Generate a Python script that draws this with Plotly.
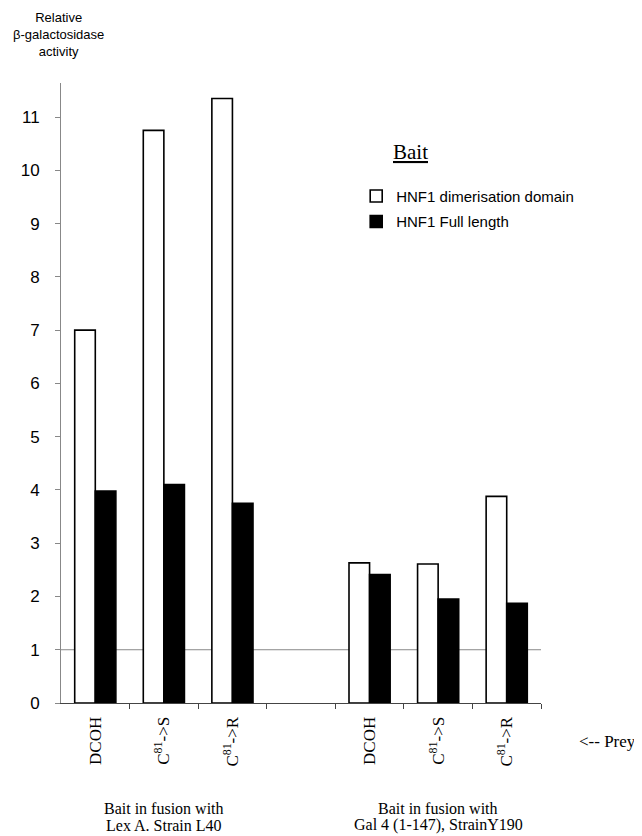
import plotly.graph_objects as go

# Data
prey_labels = ["DCOH", "C<sup>81</sup>->S", "C<sup>81</sup>->R",
               "DCOH", "C<sup>81</sup>->S", "C<sup>81</sup>->R"]
label_positions = [0, 1, 2, 4, 5, 6]
positions = [0, 1, 2, 3, 4, 5, 6]
dimer_domain = [7.0, 10.75, 11.35, None, 2.63, 2.61, 3.88]
full_length = [3.98, 4.1, 3.75, None, 2.41, 1.95, 1.87]
y_ticks = list(range(0, 12))
series_names = ["HNF1 dimerisation domain", "HNF1 Full length"]
caption_line1 = ["Bait in fusion with", "Bait in fusion with"]
caption_line2 = ["Lex A. Strain L40", "Gal 4 (1-147), StrainY190"]
group_caption_pos = [1, 5]
boundaries = [-0.5 + i for i in range(1, 8)]

serif = "Liberation Serif, Times New Roman, serif"
sans = "Liberation Sans, Arial, sans-serif"

fig = go.Figure()
fig.add_trace(go.Bar(
    x=positions, y=dimer_domain, name=series_names[0], legendgroup="a",
    marker=dict(color="white", line=dict(color="black", width=1.6)),
))
fig.add_trace(go.Bar(
    x=positions, y=full_length, name=series_names[1], legendgroup="b",
    marker=dict(color="black", line=dict(color="black", width=1.6)),
))

fig.add_hline(y=1, line=dict(color="#888888", width=1), layer="below")

annotations = [
    dict(text="Relative<br>β-galactosidase<br>activity", xref="paper", yref="paper",
         x=-0.005, y=1.0, xanchor="center", yanchor="bottom", yshift=22, showarrow=False,
         font=dict(family=sans, size=13, color="black"), align="center"),
    dict(text="<u>Bait</u>", xref="x", yref="paper", x=4.6, y=0.889,
         xanchor="center", yanchor="middle", showarrow=False,
         font=dict(family=serif, size=21, color="black")),
    dict(text="<-- Prey", xref="paper", yref="paper", x=1.075, y=0, yshift=-38,
         xanchor="left", yanchor="middle", showarrow=False,
         font=dict(family=serif, size=17, color="black")),
]
for l1, l2, pos in zip(caption_line1, caption_line2, group_caption_pos):
    annotations.append(dict(text=l1, xref="x", yref="paper", x=pos, y=0, yshift=-105,
                            xanchor="center", yanchor="middle", showarrow=False,
                            font=dict(family=serif, size=16, color="black")))
    annotations.append(dict(text=l2, xref="x", yref="paper", x=pos, y=0, yshift=-122,
                            xanchor="center", yanchor="middle", showarrow=False,
                            font=dict(family=serif, size=16, color="black")))

fig.update_layout(
    width=634, height=828,
    margin=dict(l=53, r=101, t=75, b=133),
    paper_bgcolor="white", plot_bgcolor="white",
    barmode="group", bargap=0.4, bargroupgap=0,
    showlegend=True,
    legend=dict(x=0.615, y=0.844, xanchor="left", yanchor="top",
                font=dict(family=sans, size=15, color="black"),
                itemwidth=30, tracegroupgap=3, bgcolor="rgba(0,0,0,0)"),
    annotations=annotations,
    xaxis=dict(range=[-0.5, 6.5], tickmode="array", tickvals=label_positions, ticktext=prey_labels,
               tickangle=-90, ticks="", showgrid=False, zeroline=False,
               showline=True, linecolor="#444444", linewidth=1, ticklabelstandoff=6,
               tickfont=dict(family=serif, size=17, color="black"),
               minor=dict(tickmode="array", tickvals=boundaries,
                          ticks="outside", ticklen=5, tickcolor="#444444", showgrid=False)),
    yaxis=dict(range=[0, 11.64], tickmode="array", tickvals=y_ticks,
               ticks="outside", ticklen=5, tickcolor="#888888",
               showgrid=False, zeroline=False, showline=True, linecolor="#888888", linewidth=1,
               tickfont=dict(family=sans, size=17, color="black"), ticklabelstandoff=12),
)

fig.write_html("out.html")
